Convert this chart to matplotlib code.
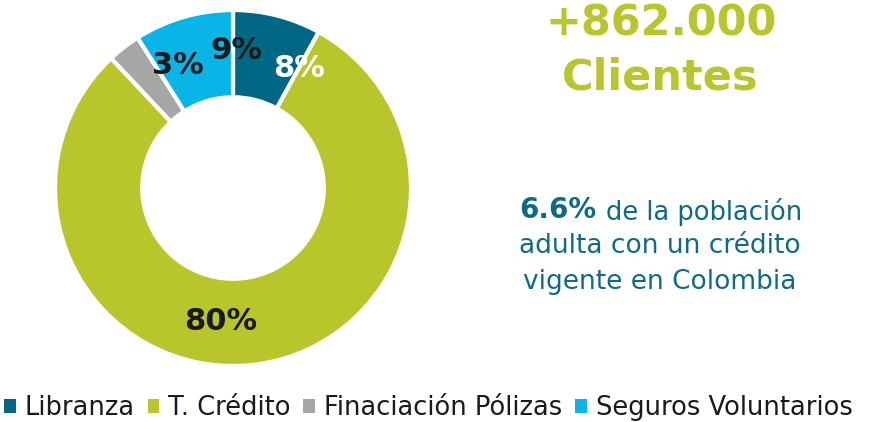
import matplotlib.pyplot as plt
from matplotlib.patches import Patch

# data
categorias = ["Libranza", "T. Crédito", "Finaciación Pólizas", "Seguros Voluntarios"]
valores = [8, 80, 3, 9]
colores = ["#006885", "#B8C62C", "#A6A6A6", "#09B5E6"]
etiquetas = ["8%", "80%", "3%", "9%"]
etiqueta_color = ["white", "#1a1a1a", "#1a1a1a", "#1a1a1a"]
# label positions (x, y) in pie units, nudged like the original
etiqueta_pos = [(0.37, 0.67), (-0.07, -0.75), (-0.31, 0.69), (0.02, 0.77)]

fig = plt.figure(figsize=(8.74, 4.22), dpi=100)
ax = fig.add_axes([55 / 874, 56 / 422, 356 / 874, 356 / 422])

ax.pie(valores, colors=colores, startangle=90, counterclock=False,
       radius=1.0,
       wedgeprops=dict(width=0.49, edgecolor="white", linewidth=3))
ax.set_xlim(-1, 1)
ax.set_ylim(-1, 1)
ax.set_aspect("equal")

for txt, (x, y), c in zip(etiquetas, etiqueta_pos, etiqueta_color):
    ax.text(x, y, txt, ha="center", va="center", fontsize=22,
            fontweight="bold", color=c)

# right side text
verde = "#B8C62C"
azul = "#0E6A85"
fig.text(661 / 874, 1 - 2 / 422, "+862.000", ha="center", va="top",
         fontsize=31, fontweight="bold", color=verde)
fig.text(660 / 874, 1 - 78 / 422, "Clientes", ha="center", va="center",
         fontsize=31, fontweight="bold", color=verde)

fig.text(596 / 874, 1 - 210 / 422, "6.6%", ha="right", va="center",
         fontsize=20, fontweight="bold", color=azul)
fig.text(606 / 874, 1 - 212 / 422, "de la población", ha="left", va="center",
         fontsize=18.5, color=azul)
fig.text(660 / 874, 1 - 246 / 422, "adulta con un crédito", ha="center",
         va="center", fontsize=19, color=azul)
fig.text(660 / 874, 1 - 282 / 422, "vigente en Colombia", ha="center",
         va="center", fontsize=19, color=azul)

handles = [Patch(facecolor=c, edgecolor="none") for c in colores]
fig.legend(handles, categorias, loc="center", bbox_to_anchor=(0.49, 1 - 408 / 422),
           ncol=4, frameon=False, fontsize=18.5, handlelength=0.45,
           handleheight=0.45, handletextpad=0.35, columnspacing=0.5,
           labelcolor="#1a1a1a", borderaxespad=0, borderpad=0)

fig.savefig("out.png", dpi=100)
